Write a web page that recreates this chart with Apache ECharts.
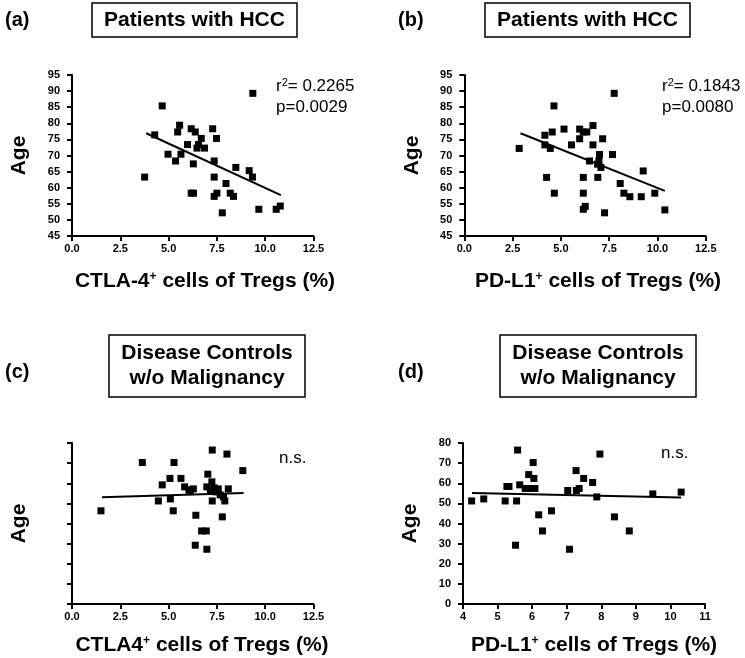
<!DOCTYPE html>
<html><head><meta charset="utf-8">
<script src="https://cdn.jsdelivr.net/npm/echarts@6/dist/echarts.min.js"></script>
<style>html,body{margin:0;padding:0;background:#fff}#c{width:745px;height:658px}</style>
</head><body><div id="c"></div>
<script>
// Panel (a): CTLA-4+ cells of Tregs (%) vs Age, HCC
var ptsA = [[9.36,89.3],[4.67,85.4],[4.28,76.4],[3.76,63.3],[5.57,79.4],[5.47,77.3],[6.17,78.3],[6.38,77.3],[7.28,78.3],[6.69,75.3],[7.48,75.3],[5.98,73.4],[6.55,73.4],[6.47,72.3],[6.86,72.3],[4.97,70.4],[5.64,70.4],[5.36,68.3],[6.28,67.4],[7.36,68.3],[8.48,66.3],[9.17,65.3],[9.34,63.3],[7.36,63.3],[7.97,61.3],[6.17,58.3],[6.29,58.3],[7.5,58.3],[7.36,57.3],[8.19,58.3],[8.36,57.3],[7.78,52.2],[9.67,53.3],[10.57,53.3],[10.78,54.3]];
var fitA = [[3.84,76.9],[10.81,57.7]];
// Panel (b): PD-L1+ cells of Tregs (%) vs Age, HCC
var ptsB = [[7.76,89.3],[4.64,85.4],[2.84,72.2],[4.17,76.3],[4.17,73.3],[4.55,77.3],[4.45,72.2],[4.26,63.2],[4.66,58.3],[5.16,78.2],[5.55,73.3],[5.97,78.2],[5.97,75.2],[6.16,77.3],[6.34,77.3],[6.66,79.3],[6.66,73.3],[7.16,75.2],[7.67,70.3],[7.0,70.3],[6.48,68.3],[6.97,68.3],[6.9,67.3],[7.07,66.3],[6.16,63.2],[6.91,63.2],[9.26,65.2],[8.07,61.3],[6.16,58.3],[8.26,58.3],[8.57,57.2],[9.16,57.2],[9.86,58.3],[6.16,53.3],[6.26,54.2],[7.26,52.2],[10.38,53.1]];
var fitB = [[2.91,76.9],[10.38,59.0]];
// Panel (c): CTLA4+ cells of Tregs (%) vs Age, disease controls
var ptsC = [[1.5,46.3],[3.64,70.3],[5.28,70.3],[7.26,76.5],[8.02,74.5],[8.84,66.3],[4.67,59.2],[5.07,62.4],[5.64,62.4],[4.47,51.2],[5.09,52.2],[5.24,46.3],[5.83,58.2],[6.05,56.7],[6.28,57.2],[6.12,56.2],[7.03,64.5],[7.24,60.7],[6.98,58.2],[7.16,56.7],[7.36,57.7],[7.57,57.2],[7.47,55.7],[7.67,54.2],[7.84,53.2],[8.09,57.2],[7.26,51.2],[7.91,51.2],[6.41,44.1],[7.78,43.3],[6.71,36.3],[6.95,36.3],[6.38,29.2],[6.98,27.2]];
var fitC = [[1.55,53.1],[8.88,55.1]];
// Panel (d): PD-L1+ cells of Tregs (%) vs Age, disease controls
var ptsD = [[4.25,51.2],[4.6,52.2],[5.22,51.2],[5.55,51.2],[5.27,58.4],[5.33,58.4],[5.58,76.5],[5.52,29.2],[5.64,59.2],[5.8,57.4],[5.94,57.4],[6.08,57.4],[5.9,64.3],[6.03,70.3],[6.05,62.4],[6.19,44.3],[6.3,36.3],[6.56,46.3],[7.03,56.4],[7.28,56.4],[7.36,57.4],[7.27,66.3],[7.49,62.4],[7.75,60.4],[7.87,53.2],[7.96,74.5],[7.08,27.2],[8.38,43.3],[8.81,36.3],[9.49,54.7],[10.31,55.6]];
var fitD = [[4.26,55.2],[10.31,52.9]];

var titlesTop = ['Patients with HCC', 'Patients with HCC'];
var titlesBottom = ['Disease Controls\nw/o Malignancy', 'Disease Controls\nw/o Malignancy'];
var statsA = ['0.2265', '0.0029'];
var statsB = ['0.1843', '0.0080'];
var nsText = 'n.s.';

var FONT = 'Liberation Sans, Arial, sans-serif';
var chart = echarts.init(document.getElementById('c'), null, {renderer: 'canvas'});

var grids = [
  {left: 72, top: 75, width: 241.5, height: 161},
  {left: 464.3, top: 75, width: 241.5, height: 161},
  {left: 72, top: 443, width: 241.5, height: 161},
  {left: 463, top: 443, width: 242, height: 161}
];
function xAxis(idx, min, max, interval, dec) {
  return {gridIndex: idx, type: 'value', min: min, max: max, interval: interval,
    axisLine: {show: true, onZero: false, lineStyle: {color: '#000', width: 2}},
    axisTick: {show: true, length: 5, lineStyle: {color: '#000', width: 2}},
    splitLine: {show: false},
    axisLabel: {color: '#000', fontWeight: 'bold', fontSize: 11, fontFamily: FONT, margin: 7,
      formatter: function (v) { return v.toFixed(dec); }}};
}
function yAxis(idx, min, max, interval, showLabels) {
  return {gridIndex: idx, type: 'value', min: min, max: max, interval: interval,
    name: 'Age', nameLocation: 'middle', nameGap: 42, nameRotate: 90,
    nameTextStyle: {color: '#000', fontWeight: 'bold', fontSize: 21, fontFamily: FONT},
    axisLine: {show: true, onZero: false, lineStyle: {color: '#000', width: 2}},
    axisTick: {show: true, length: 5, lineStyle: {color: '#000', width: 2}},
    splitLine: {show: false},
    axisLabel: {show: showLabels, color: '#000', fontWeight: 'bold', fontSize: 11, fontFamily: FONT, margin: 12}};
}
function scat(i, d) {
  return {type: 'scatter', xAxisIndex: i, yAxisIndex: i, data: d, symbol: 'rect', symbolSize: 7,
    itemStyle: {color: '#000', opacity: 1}, silent: true};
}
function fit(i, d) {
  return {type: 'line', xAxisIndex: i, yAxisIndex: i, data: d, symbol: 'none',
    lineStyle: {color: '#000', width: 2}, silent: true, z: 1};
}
var sup = {fontSize: 12, fontWeight: 'bold', fontFamily: FONT, fill: '#000', verticalAlign: 'top'};
var big = {fontSize: 21, fontWeight: 'bold', fontFamily: FONT, fill: '#000'};
function xname(x, y, pre, post) {
  return {type: 'text', x: x, y: y, style: {
    text: '{b|' + pre + '}{s|+}{b|' + post + '}', rich: {b: big, s: sup},
    align: 'center', verticalAlign: 'middle'}};
}
function label(x, y, t) {
  return {type: 'text', x: x, y: y, style: {text: t, fontSize: 20, fontWeight: 'bold', fontFamily: FONT, fill: '#000', align: 'left', verticalAlign: 'middle'}};
}
function box(x, y, w, h, t) {
  return {type: 'group', children: [
    {type: 'rect', shape: {x: x, y: y, width: w, height: h}, style: {fill: '#fff', stroke: '#000', lineWidth: 1.5}},
    {type: 'text', x: x + w / 2, y: y + h / 2, style: {text: t, fontSize: 21, fontWeight: 'bold', fontFamily: FONT, fill: '#000', align: 'center', verticalAlign: 'middle', lineHeight: 25}}
  ]};
}
var smallR = {fontSize: 17, fontFamily: FONT, fill: '#000'};
var smallS = {fontSize: 11, fontFamily: FONT, fill: '#000', verticalAlign: 'top'};
function stats(x, y, s) {
  return {type: 'group', children: [
    {type: 'text', x: x, y: y, style: {text: '{n|r}{s|2}{n|= ' + s[0] + '}', rich: {n: smallR, s: smallS}, align: 'left', verticalAlign: 'middle'}},
    {type: 'text', x: x, y: y + 21, style: {text: 'p=' + s[1], fontSize: 17, fontFamily: FONT, fill: '#000', align: 'left', verticalAlign: 'middle'}}
  ]};
}

chart.setOption({
  animation: false,
  grid: grids,
  xAxis: [xAxis(0, 0, 12.5, 2.5, 1), xAxis(1, 0, 12.5, 2.5, 1), xAxis(2, 0, 12.5, 2.5, 1), xAxis(3, 4, 11, 1, 0)],
  yAxis: [yAxis(0, 45, 95, 5, true), yAxis(1, 45, 95, 5, true), yAxis(2, 0, 80, 10, false), yAxis(3, 0, 80, 10, true)],
  series: [scat(0, ptsA), fit(0, fitA), scat(1, ptsB), fit(1, fitB), scat(2, ptsC), fit(2, fitC), scat(3, ptsD), fit(3, fitD)],
  graphic: [
    label(5, 20, '(a)'), label(398, 20, '(b)'), label(5, 372, '(c)'), label(398, 372, '(d)'),
    box(92, 3, 205, 34, titlesTop[0]), box(485, 3, 205, 34, titlesTop[1]),
    box(109, 335, 196, 62, titlesBottom[0]), box(500, 335, 196, 62, titlesBottom[1]),
    stats(276, 86, statsA), stats(662, 86, statsB),
    {type: 'text', x: 279, y: 458, style: {text: nsText, fontSize: 17, fontFamily: FONT, fill: '#000', align: 'left', verticalAlign: 'middle'}},
    {type: 'text', x: 661, y: 453, style: {text: nsText, fontSize: 17, fontFamily: FONT, fill: '#000', align: 'left', verticalAlign: 'middle'}},
    xname(205, 281, 'CTLA-4', ' cells of Tregs (%)'),
    xname(598, 281, 'PD-L1', ' cells of Tregs (%)'),
    xname(202, 645, 'CTLA4', ' cells of Tregs (%)'),
    xname(594, 645, 'PD-L1', ' cells of Tregs (%)')
  ]
});
</script></body></html>
